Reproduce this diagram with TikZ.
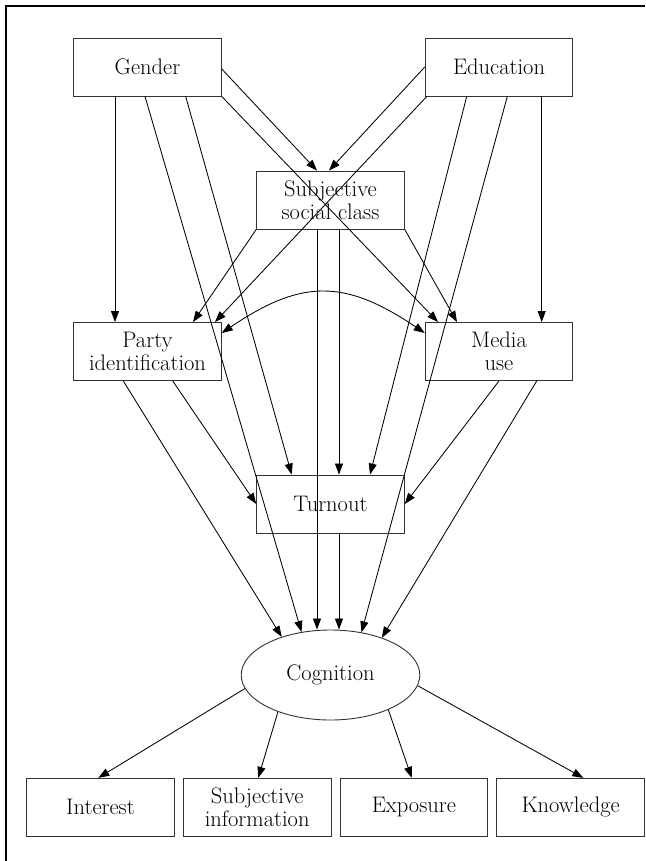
\documentclass[tikz,border=0pt]{standalone}
\usetikzlibrary{arrows.meta,shapes.geometric}
\begin{document}
\begin{tikzpicture}[x=1pt,y=-1pt,
  lbl/.style={font=\fontsize{22.5}{23}\selectfont},
  box/.style={lbl, draw=black!80, line width=0.9pt, rectangle,
    minimum width=147.6pt, minimum height=58pt, inner sep=0pt, align=center},
  oval/.style={lbl, draw=black!80, line width=0.9pt, ellipse,
    minimum width=178.6pt, minimum height=90pt, inner sep=0pt},
  arr/.style={-{Triangle[length=11pt,width=8pt]}, line width=0.85pt},
  biarr/.style={{Triangle[length=11pt,width=8pt]}-{Triangle[length=11pt,width=8pt]}, line width=0.85pt},
  frame/.style={line width=2pt}]
\useasboundingbox (0,0) rectangle (645,861);

% outer frame (left and top rules)
\coordinate (fbl) at (6,861);
\coordinate (ftl) at (6,5.7);
\coordinate (ftr) at (645,5.7);
\draw[frame] (fbl) -- (ftl) -- (ftr);

% nodes
\node[box] (gender) at (147.5,67) {Gender};
\node[box] (educ) at (499,67) {Education};
\node[box] (ssc) at (330.5,200) {Subjective\\social class};
\node[box] (party) at (147.5,351.5) {Party\\identification};
\node[box] (media) at (499,351.5) {Media\\use};
\node[box] (turnout) at (330.5,504) {Turnout};
\node[oval] (cog) at (330.5,675) {Cognition};
\node[box] (interest) at (100.5,807.3) {Interest};
\node[box] (subinfo) at (257.2,807.3) {Subjective\\information};
\node[box] (exposure) at (413.9,807.3) {Exposure};
\node[box] (knowledge) at (570.6,807.3) {Knowledge};

% from Gender
\draw[arr] ([yshift=-2pt]gender.east) -- ([xshift=-13.5pt]ssc.north);
\draw[arr] (gender.south east) -- ([xshift=-61pt]media.north);
\draw[arr] ([xshift=-32.5pt]gender.south) -- ([xshift=-32.5pt]party.north);
\draw[arr] ([xshift=38.2pt]gender.south) -- ([xshift=-38.8pt]turnout.north);
\draw[arr] ([xshift=-2.5pt]gender.south) -- (cog.124);

% from Education
\draw[arr] (educ.west) -- ([xshift=-1.5pt]ssc.north);
\draw[arr] ([xshift=2pt]educ.south west) -- ([xshift=67.5pt]party.north);
\draw[arr] ([xshift=-32.3pt]educ.south) -- ([xshift=39.5pt]turnout.north);
\draw[arr] ([xshift=8.3pt]educ.south) -- (cog.54);
\draw[arr] ([xshift=42.7pt]educ.south) -- ([xshift=42.7pt]media.north);

% from Subjective social class
\draw[arr] (ssc.south west) -- ([xshift=45.5pt]party.north);
\draw[arr] (ssc.south east) -- ([xshift=-42pt]media.north);
\draw[arr] ([xshift=8.5pt]ssc.south) -- ([xshift=8.5pt]turnout.north);
\draw[arr] ([xshift=-13.5pt]ssc.south) -- ([xshift=-13.5pt]cog.north);

% from Party identification and Media use
\draw[arr] ([xshift=25.2pt]party.south) -- (turnout.west);
\draw[arr] ([xshift=-24.2pt]party.south) -- (cog.142);
\draw[biarr] ([yshift=18.5pt]party.east) .. controls +(80pt,54pt) and +(-80pt,54pt) .. ([yshift=18.5pt]media.west);
\draw[arr] (media.south) -- (turnout.east);
\draw[arr] ([xshift=37.7pt]media.south) -- (cog.36);

% from Turnout
\draw[arr] ([xshift=8.5pt]turnout.south) -- ([xshift=8.5pt]cog.north);

% indicators of Cognition
\draw[arr] (cog.189) -- ([xshift=-2.2pt]interest.north);
\draw[arr] (cog.215) -- ([xshift=1.1pt]subinfo.north);
\draw[arr] (cog.-31) -- ([xshift=-2.2pt]exposure.north);
\draw[arr] (cog.-7) -- ([xshift=12.7pt]knowledge.north);
\end{tikzpicture}
\end{document}
